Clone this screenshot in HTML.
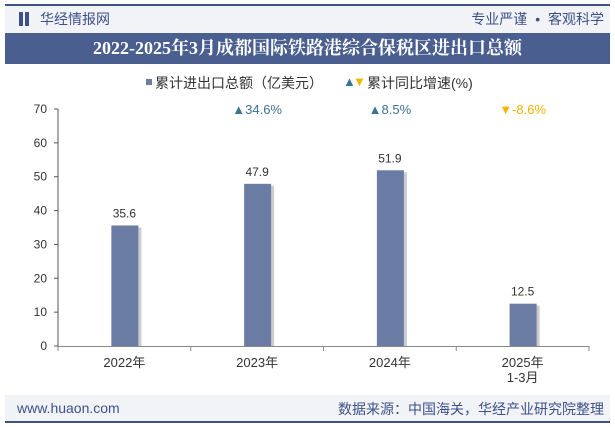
<!DOCTYPE html>
<html><head><meta charset="utf-8"><style>
body{margin:0;width:615px;height:427px;background:#fff;font-family:"Liberation Sans","Noto Sans CJK SC",sans-serif;overflow:hidden;position:relative}
.a{position:absolute}
</style></head><body>
<div class="a" style="left:5px;top:4px;width:605px;height:2px;background:#3d5189"></div>
<div class="a" style="left:5px;top:6px;width:605px;height:27px;background:#f2f3f7"></div>
<div class="a" style="left:19px;top:12px;width:4px;height:14px;background:#3d5189"></div>
<div class="a" style="left:25px;top:12px;width:4px;height:14px;background:#3d5189"></div>
<div class="a" style="left:40px;top:9px;font-size:14px;color:#3d5189">华经情报网</div>
<div class="a" style="right:11px;top:9px;font-size:14px;color:#3d5189;word-spacing:4px">专业严谨 • 客观科学</div>
<div class="a" style="left:5px;top:33px;width:605px;height:31px;background:#4a5f90;color:#fff;font-family:'Liberation Serif','Noto Serif CJK SC',serif;font-weight:bold;font-size:18px;line-height:31px;text-align:center">2022-2025年3月成都国际铁路港综合保税区进出口总额</div>
<div class="a" style="left:5px;top:395px;width:605px;height:26px;background:#f2f3f7"></div>
<div class="a" style="left:5px;top:421px;width:605px;height:2px;background:#3d5189"></div>
<div class="a" style="left:17px;top:400px;font-size:14px;color:#3d5189">www.huaon.com</div>
<div class="a" style="right:11px;top:399px;font-size:14px;color:#3d5189">数据来源：中国海关，华经产业研究院整理</div>
<svg class="a" style="left:0;top:0" width="615" height="427" id="c"></svg>
<script>
const categories=["2022年","2023年","2024年","2025年\n1-3月"];
const values=[35.6,47.9,51.9,12.5];
const growth=[null,34.6,8.5,-8.6];
const yTicks=[0,10,20,30,40,50,60,70];
const svg=document.getElementById('c');const NS='http://www.w3.org/2000/svg';
const x0=58,x1=589,yb=346,yt=109,ymax=70;
const y=v=>yb-(yb-yt)*v/ymax;
const bw=(x1-x0)/categories.length;
const cx=i=>x0+bw*(i+0.5);
function mk(t,a,txt){const e=document.createElementNS(NS,t);for(const k in a)e.setAttribute(k,a[k]);if(txt!=null)e.textContent=txt;svg.appendChild(e);return e;}
let e=mk('rect',{x:146,y:79,width:6,height:6,fill:'#6a7ba4'});

e=mk('text',{x:155,y:88,'font-size':14,fill:'#333'},'累计进出口总额（亿美元）');

e=mk('text',{x:343,y:86,'font-size':13,fill:'#3a7396'},'▲');

e=mk('text',{x:353,y:86,'font-size':13,fill:'#f5b400'},'▼');

e=mk('text',{x:367,y:88,'font-size':14,fill:'#333'},'累计同比增速(%)');

e=mk('line',{x1:x0,y1:yt,x2:x0,y2:yb,stroke:'#555','stroke-width':1});

e=mk('line',{x1:x0,y1:yb+0.5,x2:x1,y2:yb+0.5,stroke:'#888','stroke-width':1});

yTicks.forEach(t=>{
 let l=mk('line',{x1:x0-4,y1:y(t),x2:x0,y2:y(t),stroke:'#555'});
 
 let tx=mk('text',{x:47,y:y(t)+4,'font-size':12,fill:'#333','text-anchor':'end'},t);
 
});
for(let i=0;i<=categories.length;i++){
 let l=mk('line',{x1:x0+bw*i,y1:yb,x2:x0+bw*i,y2:yb+5,stroke:'#888'});
 
}
categories.forEach((c,i)=>{
 const lines=c.split('\n');
 lines.forEach((s,j)=>{
  let t=mk('text',{x:cx(i),y:367+j*15,'font-size':13,fill:'#333','text-anchor':'middle'},s);
  
 });
 const v=values[i];
 let sh=mk('rect',{x:cx(i)-10,y:y(v)+2,width:27,height:yb-y(v)-2,fill:'#ccc'});
 
 let b=mk('rect',{x:cx(i)-13,y:y(v),width:27,height:yb-y(v),fill:'#6a7ba4'});
 
 let vl=mk('text',{x:cx(i),y:y(v)-8,'font-size':12,fill:'#333','text-anchor':'middle'},v.toFixed(1));
 
 const g=growth[i];
 if(g!=null){
  const up=g>=0;
  let gl=mk('text',{x:cx(i),y:114,'font-size':13,fill:up?'#3a7396':'#f5b400','text-anchor':'middle'},(up?'▲':'▼')+g.toFixed(1)+'%');
  
 }
});
</script>
</body></html>
